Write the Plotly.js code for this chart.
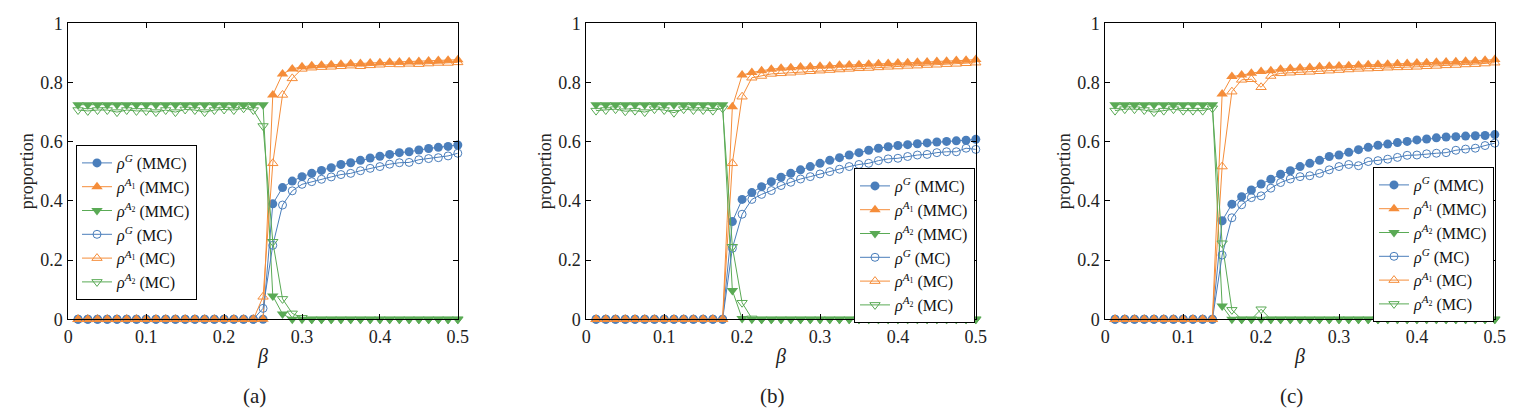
<!DOCTYPE html>
<html>
<head>
<meta charset="utf-8">
<script src="https://cdn.plot.ly/plotly-3.0.1.min.js"></script>
<style>html,body{margin:0;padding:0;background:#fff;}#chart{width:1523px;height:420px;}</style>
</head>
<body>
<div id="chart"></div>
<script>
// beta values
const beta = [0.0125,0.025,0.0375,0.05,0.0625,0.075,0.0875,0.1,0.1125,0.125,
  0.1375,0.15,0.1625,0.175,0.1875,0.2,0.2125,0.225,0.2375,0.25,
  0.2625,0.275,0.2875,0.3,0.3125,0.325,0.3375,0.35,0.3625,0.375,
  0.3875,0.4,0.4125,0.425,0.4375,0.45,0.4625,0.475,0.4875,0.5];

// Panel (a)
const gA_MMC = [0,0,0,0,0,0,0,0,0,0, 0,0,0,0,0,0,0,0,0,0,
  0.39,0.445,0.467,0.482,0.493,0.503,0.512,0.523,0.529,0.537,
  0.545,0.551,0.557,0.563,0.566,0.572,0.577,0.581,0.584,0.589];
const a1A_MMC = [0,0,0,0,0,0,0,0,0,0, 0,0,0,0,0,0,0,0,0,0,
  0.758,0.829,0.846,0.853,0.857,0.858,0.86,0.862,0.863,0.864,
  0.866,0.867,0.868,0.869,0.87,0.871,0.873,0.874,0.875,0.877];
const a2A_MMC = [0.725,0.725,0.725,0.725,0.725,0.725,0.725,0.725,0.725,0.725,
  0.725,0.725,0.725,0.725,0.725,0.725,0.725,0.725,0.725,0.725,
  0.079,0.018,0,0,0,0,0,0,0,0, 0,0,0,0,0,0,0,0,0,0];
const gA_MC = [0,0,0,0,0,0,0,0,0,0, 0,0,0,0,0,0,0,0,0,0.037,
  0.25,0.386,0.434,0.456,0.465,0.473,0.481,0.489,0.493,0.502,
  0.51,0.516,0.524,0.529,0.53,0.539,0.543,0.546,0.552,0.561];
const a1A_MC = [0,0,0,0,0,0,0,0,0,0, 0,0,0,0,0,0,0,0,0,0.076,
  0.527,0.758,0.814,0.846,0.85,0.852,0.853,0.855,0.857,0.855,
  0.858,0.86,0.862,0.861,0.863,0.862,0.864,0.866,0.866,0.868];
const a2A_MC = [0.707,0.704,0.707,0.707,0.70,0.707,0.704,0.704,0.70,0.707,
  0.70,0.709,0.707,0.70,0.707,0.709,0.707,0.713,0.707,0.653,
  0.262,0.069,0.02,0.005,0,0,0,0,0,0, 0,0,0,0,0,0,0,0,0,0];

// Panel (b)
const gB_MMC = [0,0,0,0,0,0,0,0,0,0, 0,0,0,0,
  0.33,0.405,0.428,0.448,0.465,0.48,0.493,0.505,0.516,0.527,
  0.537,0.546,0.555,0.563,0.571,0.578,0.583,0.587,0.59,0.593,
  0.596,0.599,0.601,0.603,0.605,0.608];
const a1B_MMC = [0,0,0,0,0,0,0,0,0,0, 0,0,0,0,
  0.718,0.825,0.834,0.84,0.845,0.848,
  0.85,0.852,0.853,0.855,0.856,0.858,0.859,0.86,0.862,0.863,
  0.864,0.866,0.867,0.868,0.869,0.871,0.872,0.874,0.875,0.878];
const a2B_MMC = [0.725,0.725,0.725,0.725,0.725,0.725,0.725,0.725,0.725,0.725,
  0.725,0.725,0.725,0.725,0.097,0.003,0,0,0,0,
  0,0,0,0,0,0,0,0,0,0, 0,0,0,0,0,0,0,0,0,0];
const gB_MC = [0,0,0,0,0,0,0,0,0,0, 0,0,0,0,
  0.24,0.355,0.405,0.422,0.435,0.452,0.463,0.474,0.482,0.491,
  0.499,0.507,0.516,0.523,0.527,0.536,0.542,0.544,0.55,0.555,
  0.557,0.563,0.566,0.566,0.578,0.574];
const a1B_MC = [0,0,0,0,0,0,0,0,0,0, 0,0,0,0,
  0.527,0.752,0.816,0.822,0.829,
  0.831,0.833,0.836,0.838,0.84,0.842,0.844,0.846,0.848,0.849,
  0.851,0.853,0.854,0.856,0.857,0.859,0.86,0.862,0.863,0.865,0.867];
const a2B_MC = [0.705,0.707,0.71,0.703,0.705,0.70,0.71,0.707,0.698,0.71,
  0.707,0.707,0.705,0.713,0.245,0.056,0.003,0,0,0,
  0,0,0,0,0,0,0,0,0,0, 0,0,0,0,0,0,0,0,0,0];

// Panel (c)
const gC_MMC = [0,0,0,0,0,0,0,0,0,0, 0,
  0.333,0.389,0.414,0.437,0.457,0.473,0.49,0.502,0.516,0.527,
  0.537,0.55,0.555,0.564,0.573,0.581,0.588,0.592,0.597,0.601,
  0.606,0.609,0.613,0.616,0.617,0.619,0.62,0.621,0.624];
const a1C_MMC = [0,0,0,0,0,0,0,0,0,0, 0,
  0.761,0.82,0.825,0.831,0.837,0.84,
  0.845,0.847,0.849,0.851,0.853,0.855,0.856,0.857,0.858,
  0.86,0.861,0.862,0.863,0.864,0.866,0.867,0.868,0.869,0.87,
  0.872,0.873,0.875,0.878];
const a2C_MMC = [0.725,0.725,0.725,0.725,0.725,0.725,0.725,0.725,0.725,0.725,
  0.725,0.045,0,0,0,0,0,0,0,0,
  0,0,0,0,0,0,0,0,0,0, 0,0,0,0,0,0,0,0,0,0];
const gC_MC = [0,0,0,0,0,0,0,0,0,0, 0,
  0.217,0.343,0.387,0.411,0.417,0.443,0.462,0.474,0.482,0.485,
  0.493,0.505,0.516,0.523,0.519,0.533,0.536,0.541,0.547,0.554,
  0.555,0.559,0.561,0.563,0.571,0.575,0.578,0.587,0.595];
const a1C_MC = [0,0,0,0,0,0,0,0,0,0, 0,
  0.516,0.769,0.809,0.811,0.784,0.822,
  0.831,0.833,0.835,0.836,0.838,0.84,0.842,0.844,0.846,0.847,
  0.848,0.85,0.851,0.852,0.853,0.855,0.856,0.858,0.859,0.861,
  0.862,0.864,0.867];
const a2C_MC = [0.705,0.71,0.71,0.707,0.70,0.705,0.71,0.705,0.705,0.705,
  0.713,0.257,0.032,0,0,0.034,0,0,0,0,
  0,0,0,0,0,0,0,0,0,0, 0,0,0,0,0,0,0,0,0,0];

const seriesNames = [
  '<i>ρ</i><sup><i>G</i></sup> (MMC)',
  '<i>ρ</i><sup><i>A</i><sub>1</sub></sup> (MMC)',
  '<i>ρ</i><sup><i>A</i><sub>2</sub></sup> (MMC)',
  '<i>ρ</i><sup><i>G</i></sup> (MC)',
  '<i>ρ</i><sup><i>A</i><sub>1</sub></sup> (MC)',
  '<i>ρ</i><sup><i>A</i><sub>2</sub></sup> (MC)'
];
const captions = ['(a)', '(b)', '(c)'];

const BLUE = '#4a7ebb', ORANGE = '#f58d3a', GREEN = '#5aaa55';
const colors = [BLUE, ORANGE, GREEN, BLUE, ORANGE, GREEN];
const symbols = ['circle', 'triangle-up', 'triangle-down', 'circle-open', 'triangle-up-open', 'triangle-down-open'];
const sizes = [9, 10, 10, 8, 9, 9];

const panels = [
  [gA_MMC, a1A_MMC, a2A_MMC, gA_MC, a1A_MC, a2A_MC],
  [gB_MMC, a1B_MMC, a2B_MMC, gB_MC, a1B_MC, a2B_MC],
  [gC_MMC, a1C_MMC, a2C_MMC, gC_MC, a1C_MC, a2C_MC]
];

const W = 1523, H = 420;
const plotLeft = [68.3, 586.3, 1105.3];
const plotW = 389.5;
const plotTop = 23.3, plotBottom = 319.3;
// [x, y, xanchor]
const legendPos = [[76, 145, 'left'], [975, 168, 'right'], [1494, 167, 'right']];

const traces = [];
panels.forEach((p, pi) => {
  const sfx = pi === 0 ? '' : String(pi + 1);
  p.forEach((ys, si) => {
    traces.push({
      x: beta, y: ys, type: 'scatter', mode: 'lines+markers',
      name: seriesNames[si],
      xaxis: 'x' + sfx, yaxis: 'y' + sfx,
      legend: 'legend' + sfx,
      cliponaxis: false,
      line: {color: colors[si], width: 1},
      marker: {symbol: symbols[si], size: sizes[si], color: colors[si],
               line: {color: colors[si], width: si >= 3 ? 1 : 0}}
    });
  });
});

const FAM = 'Liberation Serif';
const layout = {
  width: W, height: H,
  margin: {l: 0, r: 0, t: 0, b: 0},
  paper_bgcolor: '#fff', plot_bgcolor: '#fff',
  font: {family: FAM, size: 16, color: '#222'},
  annotations: []
};
for (let i = 0; i < 3; i++) {
  const sfx = i === 0 ? '' : String(i + 1);
  const x0 = plotLeft[i] / W, x1 = (plotLeft[i] + plotW) / W;
  layout['xaxis' + sfx] = {
    domain: [x0, x1], anchor: 'y' + sfx, range: [0, 0.5], dtick: 0.1, tick0: 0,
    showgrid: false, zeroline: false, showline: true, mirror: 'ticks',
    linecolor: '#000', linewidth: 1, ticks: 'inside', ticklen: 5, tickcolor: '#000',
    tickfont: {family: FAM, size: 18, color: '#222'}, ticklabelstandoff: 1
  };
  layout['yaxis' + sfx] = {
    domain: [1 - plotBottom / H, 1 - plotTop / H], anchor: 'x' + sfx, range: [0, 1], dtick: 0.2, tick0: 0,
    showgrid: false, zeroline: false, showline: true, mirror: 'ticks',
    linecolor: '#000', linewidth: 1, ticks: 'inside', ticklen: 5, tickcolor: '#000',
    tickfont: {family: FAM, size: 18, color: '#222'}, ticklabelstandoff: 1
  };
  layout['legend' + sfx] = {
    x: legendPos[i][0] / W, y: 1 - legendPos[i][1] / H, xanchor: legendPos[i][2], yanchor: 'top',
    xref: 'paper', yref: 'paper',
    bgcolor: '#fff', bordercolor: '#000', borderwidth: 1,
    font: {family: FAM, size: 16, color: '#111'},
    itemwidth: 30, tracegroupgap: 0
  };
  layout.annotations.push({
    text: 'proportion', textangle: -90, xref: 'paper', yref: 'paper',
    x: (plotLeft[i] - 41) / W, y: 1 - 171 / H, xanchor: 'center', yanchor: 'middle', showarrow: false,
    font: {family: FAM, size: 18, color: '#222'}
  });
  layout.annotations.push({
    text: '<i>β</i>', xref: 'paper', yref: 'paper',
    x: (plotLeft[i] + plotW / 2 - 1) / W, y: 1 - 356 / H, xanchor: 'center', yanchor: 'middle', showarrow: false,
    font: {family: FAM, size: 20, color: '#222'}
  });
  layout.annotations.push({
    text: captions[i], xref: 'paper', yref: 'paper',
    x: (plotLeft[i] + plotW / 2 - 9) / W, y: 1 - 396 / H, xanchor: 'center', yanchor: 'middle', showarrow: false,
    font: {family: FAM, size: 21, color: '#222'}
  });
}

Plotly.newPlot('chart', traces, layout, {displayModeBar: false, staticPlot: true});
</script>
</body>
</html>
